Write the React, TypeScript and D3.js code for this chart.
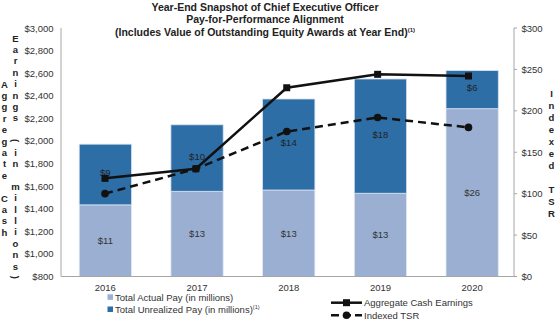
import React from "react";
import * as d3 from "d3";

const years = ["2016", "2017", "2018", "2019", "2020"];
const actualPay = [11.1, 13.2, 13.4, 12.9, 26.0];
const unrealizedPay = [9.4, 10.3, 14.1, 17.7, 5.9];
const cashEarnings = [1669, 1754, 2471, 2590, 2575];
const indexedTSR = [100, 130, 175, 192, 180];
const leftTicks = [800, 1000, 1200, 1400, 1600, 1800, 2000, 2200, 2400, 2600, 2800, 3000];
const rightTicks = [0, 50, 100, 150, 200, 250, 300];
const titleLines = [
  "Year-End Snapshot of Chief Executive Officer",
  "Pay-for-Performance Alignment",
  "(Includes Value of Outstanding Equity Awards at Year End)",
];

const W = 556;
const H = 321;
const FONT = "'Liberation Sans', Arial, sans-serif";
const LIGHT = "#9aafd2";
const DARK = "#2d6ea7";
const AXIS = "#a6a6a6";
const TXT = "#333333";

function VerticalText({ text, x, y0, step }: { text: string; x: number; y0: number; step: number }) {
  return (
    <g>
      {text.split("").map((ch, i) => {
        const y = y0 + i * step;
        const rot = ch === "(" || ch === ")";
        return (
          <text
            key={i}
            x={x}
            y={y}
            textAnchor="middle"
            dominantBaseline="central"
            fontSize={9.5}
            fontWeight="bold"
            fill="#222"
            transform={rot ? `rotate(90 ${x} ${y})` : undefined}
          >
            {ch}
          </text>
        );
      })}
    </g>
  );
}

export default function App() {
  const top = 28;
  const bottom = 276.5;
  const xBar = d3.scaleBand<string>().domain(years).range([59.5, 518]).paddingInner(0.43).paddingOuter(0.215);
  const xLine = d3.scalePoint<string>().domain(years).range([105, 468.5]);
  const yLeft = d3.scaleLinear().domain([800, 3000]).range([bottom, top]);
  const yRight = d3.scaleLinear().domain([0, 300]).range([bottom, top]);
  const yBar = d3.scaleLinear().domain([0, 38.5]).range([bottom, top]);
  const fmtMoney = d3.format("$,.0f");
  const fmtLabel = (v: number) => "$" + d3.format(".0f")(v);

  const cashLine = d3
    .line<number>()
    .x((_, i) => xLine(years[i]) as number)
    .y((d) => yLeft(d));
  const tsrLine = d3
    .line<number>()
    .x((_, i) => xLine(years[i]) as number)
    .y((d) => yRight(d));

  const leftX = 61;
  const rightX = 514;

  return (
    <svg
      width={W}
      height={H}
      style={{ position: "absolute", left: 0, top: 0, background: "#fff" }}
      fontFamily={FONT}
    >
      {/* Title */}
      {titleLines.map((t, i) => (
        <text
          key={i}
          x={265}
          y={10.5 + i * 12.5}
          textAnchor="middle"
          fontSize={10.5}
          fontWeight="bold"
          fill="#222"
        >
          {t}
          {i === 2 && (
            <tspan fontSize={6} dy={-4}>
              (1)
            </tspan>
          )}
        </text>
      ))}

      {/* Bars */}
      {years.map((yr, i) => {
        const x = xBar(yr) as number;
        const bw = xBar.bandwidth();
        const a = actualPay[i];
        const u = unrealizedPay[i];
        return (
          <g key={yr}>
            <rect x={x} y={yBar(a)} width={bw} height={bottom - yBar(a)} fill={LIGHT} stroke="#e3e9f3" strokeWidth={0.8} />
            <rect x={x} y={yBar(a + u)} width={bw} height={yBar(a) - yBar(a + u)} fill={DARK} stroke="#d5e0ee" strokeWidth={0.8} />
            <text x={x + bw / 2} y={(yBar(a) + bottom) / 2} textAnchor="middle" dominantBaseline="central" fontSize={9.5} fill={TXT}>
              {fmtLabel(a)}
            </text>
            <text x={x + bw / 2} y={(yBar(a) + yBar(a + u)) / 2 - 2} textAnchor="middle" dominantBaseline="central" fontSize={9.5} fill="#222">
              {fmtLabel(u)}
            </text>
          </g>
        );
      })}

      {/* Axes */}
      <line x1={leftX} x2={leftX} y1={top} y2={bottom} stroke={AXIS} strokeWidth={1} />
      <line x1={rightX} x2={rightX} y1={top} y2={bottom} stroke={AXIS} strokeWidth={1} />
      <line x1={leftX} x2={rightX} y1={bottom} y2={bottom} stroke={AXIS} strokeWidth={1} />
      {leftTicks.map((t) => (
        <text key={t} x={53.5} y={yLeft(t)} textAnchor="end" dominantBaseline="central" fontSize={9.5} fill={TXT}>
          {fmtMoney(t)}
        </text>
      ))}
      {rightTicks.map((t) => (
        <g key={t}>
          <line x1={rightX} x2={rightX + 3} y1={yRight(t)} y2={yRight(t)} stroke={AXIS} />
          <text x={521.5} y={yRight(t)} dominantBaseline="central" fontSize={9.5} fill={TXT}>
            {fmtMoney(t)}
          </text>
        </g>
      ))}
      {years.map((yr) => (
        <text key={yr} x={(xBar(yr) as number) + xBar.bandwidth() / 2} y={287.8} textAnchor="middle" dominantBaseline="central" fontSize={9.5} fill={TXT}>
          {yr}
        </text>
      ))}

      {/* Axis titles */}
      <VerticalText text="Aggregate Cash" x={4.5} y0={84} step={11.4} />
      <VerticalText text="Earnings (in millions)" x={15.5} y0={38} step={11.4} />
      <VerticalText text="Indexed TSR" x={551.5} y0={93} step={12} />

      {/* Lines */}
      <path d={cashLine(cashEarnings) || ""} fill="none" stroke="#111" strokeWidth={2.5} />
      {cashEarnings.map((v, i) => (
        <rect key={i} x={(xLine(years[i]) as number) - 3.5} y={yLeft(v) - 3.5} width={7} height={7} fill="#111" />
      ))}
      <path d={tsrLine(indexedTSR) || ""} fill="none" stroke="#111" strokeWidth={2.5} strokeDasharray="8,5" />
      {indexedTSR.map((v, i) => (
        <circle key={i} cx={xLine(years[i]) as number} cy={yRight(v)} r={3.8} fill="#111" />
      ))}

      {/* Legend */}
      <rect x={107.5} y={294.3} width={5.5} height={5.5} fill={LIGHT} />
      <text x={115} y={297.6} dominantBaseline="central" fontSize={9.5} fill={TXT}>
        Total Actual Pay (in millions)
      </text>
      <rect x={107.5} y={306.5} width={5.5} height={5.5} fill={DARK} />
      <text x={115} y={309.8} dominantBaseline="central" fontSize={9.5} fill={TXT}>
        Total Unrealized Pay (in millions)
        <tspan fontSize={5.5} dy={-3}>
          (1)
        </tspan>
      </text>

      <line x1={331} x2={362} y1={302.7} y2={302.7} stroke="#111" strokeWidth={2.5} />
      <rect x={343} y={299.2} width={7} height={7} fill="#111" />
      <text x={364} y={302.7} dominantBaseline="central" fontSize={9.5} fill={TXT}>
        Aggregate Cash Earnings
      </text>
      <line x1={331} x2={362} y1={315.3} y2={315.3} stroke="#111" strokeWidth={2.5} strokeDasharray="8,4" />
      <circle cx={346.5} cy={315.3} r={3.8} fill="#111" />
      <text x={364} y={315.3} dominantBaseline="central" fontSize={9.5} fill={TXT}>
        Indexed TSR
      </text>
    </svg>
  );
}
